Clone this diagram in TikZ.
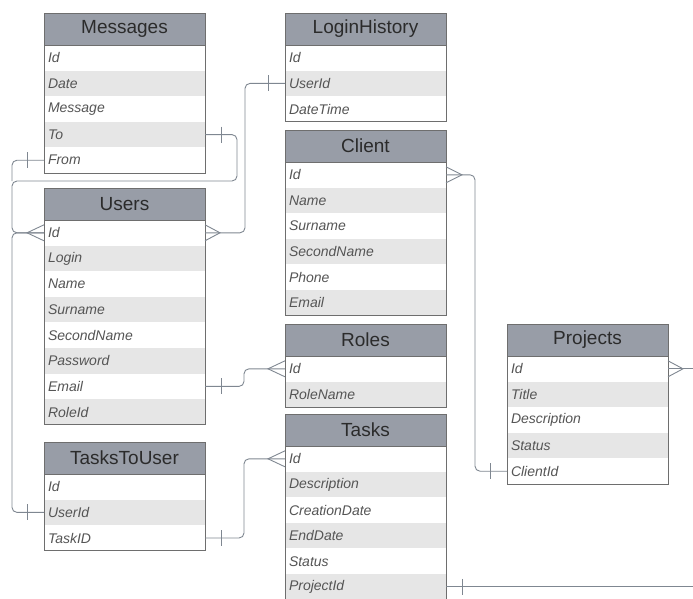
\documentclass[tikz,border=0pt]{standalone}
\usepackage{fontspec}
\setmainfont{Liberation Sans}

\definecolor{headgray}{HTML}{989DA7}
\definecolor{rowgray}{HTML}{E6E6E6}
\definecolor{framegray}{HTML}{6E6E6E}
\definecolor{linkgray}{HTML}{7F8791}
\definecolor{headtext}{HTML}{2B2B2B}
\definecolor{rowtext}{HTML}{555555}

\tikzset{
	tablehead/.style={draw=framegray, fill=headgray, minimum width=161pt,
		minimum height=32pt, inner sep=0pt, outer sep=0pt, anchor=north west,
		text=headtext, font=\fontsize{19}{22}\selectfont},
	tablerow/.style={minimum width=161pt, minimum height=25.6pt, text width=153pt,
		inner xsep=4pt, inner ysep=0pt, outer sep=0pt, align=left, anchor=north west,
		text=rowtext, font=\fontsize{14}{16}\selectfont\itshape},
	row0/.style={tablerow, fill=rowgray},
	row1/.style={tablerow, fill=white},
	link/.style={draw=linkgray, line width=0.9pt, rounded corners=5pt},
	endmark/.style={link, sharp corners},
}

% a table: name, top left corner, title, fields
\newcommand\ErTable[4]{%
	\node[tablehead] (#1) at (#2) {#3};
	\foreach \f [count=\i] in {#4} {
		\pgfmathtruncatemacro\k{mod(\i,2)}
		\node[row\k] (#1-\f) at ([yshift={-(\i-1)*25.6pt}]#1.south west) {\f};
		\xdef\lastrow{#1-\f}
	}
	\draw[framegray, line width=0.8pt] (#1.north west) rectangle (\lastrow.south east)
	(#1.south west) -- (#1.south east);
}
% the "one" tick and the "many" crow's foot
\newcommand\OneMark[2]{\draw[endmark] ([xshift=#2,yshift=8pt]#1) -- ([xshift=#2,yshift=-8pt]#1);}
\newcommand\ManyMark[2]{\draw[endmark] ([yshift=8pt]#1) -- ([xshift=#2]#1) -- ([yshift=-8pt]#1);}

\begin{document}
\begin{tikzpicture}[x=1pt, y=-1pt]
	\useasboundingbox (0,0) rectangle (693,598);
	\clip (0,0) rectangle (693,598);
	\coordinate (rim) at (693,0);
	
	% the tables
	\ErTable{messages}{44,13}{Messages}{Id,Date,Message,To,From}
	\ErTable{loginhistory}{285,13}{LoginHistory}{Id,UserId,DateTime}
	\ErTable{client}{285,130}{Client}{Id,Name,Surname,SecondName,Phone,Email}
	\ErTable{users}{44,188}{Users}{Id,Login,Name,Surname,SecondName,Password,Email,RoleId}
	\ErTable{roles}{285,324}{Roles}{Id,RoleName}
	\ErTable{projects}{507,324}{Projects}{Id,Title,Description,Status,ClientId}
	\ErTable{tasks}{285,414}{Tasks}{Id,Description,CreationDate,EndDate,Status,ProjectId}
	\ErTable{taskstouser}{44,442}{TasksToUser}{Id,UserId,TaskID}
	
	% the links
	\draw[link] (messages-To.east) -- ++(32,0) |- (12,181) |- (users-Id.west);
	\draw[link] (messages-From.west) -| (12,181);
	\draw[link] (taskstouser-UserId.west) -- ++(-32,0) |- (users-Id.west);
	\draw[link] (loginhistory-UserId.west) -- ++(-40,0) |- (users-Id.east);
	\draw[link] (client-Id.east) -- ++(29,0) |- (projects-ClientId.west);
	\draw[link] (users-Email.east) -- ++(39,0) |- (roles-Id.west);
	\draw[link] (taskstouser-TaskID.east) -- ++(39,0) |- (tasks-Id.west);
	\draw[link] (projects-Id.east) -- (projects-Id.east -| rim);
	\draw[link] (tasks-ProjectId.east) -- (tasks-ProjectId.east -| rim);
	
	% the ends of the links
	\OneMark{messages-To.east}{16pt}
	\OneMark{messages-From.west}{-17pt}
	\OneMark{taskstouser-UserId.west}{-17pt}
	\OneMark{loginhistory-UserId.west}{-17pt}
	\OneMark{projects-ClientId.west}{-17pt}
	\OneMark{users-Email.east}{16pt}
	\OneMark{taskstouser-TaskID.east}{16pt}
	\OneMark{tasks-ProjectId.east}{16pt}
	\ManyMark{users-Id.west}{-17pt}
	\ManyMark{users-Id.east}{15pt}
	\ManyMark{client-Id.east}{16pt}
	\ManyMark{roles-Id.west}{-17pt}
	\ManyMark{tasks-Id.west}{-17pt}
	\ManyMark{projects-Id.east}{15pt}
\end{tikzpicture}
\end{document}
